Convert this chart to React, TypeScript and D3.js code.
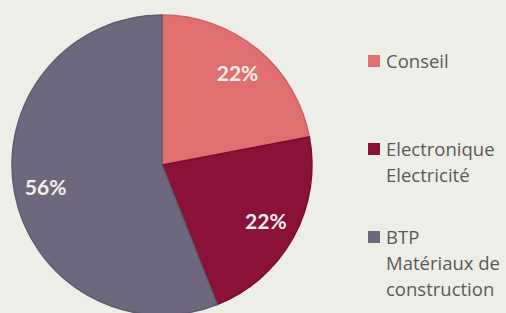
import * as d3 from 'd3';
import React from 'react';

const categories = ['Conseil', 'Electronique Electricité', 'BTP Matériaux de construction'];
const values = [22, 22, 56];
const labels = ['22%', '22%', '56%'];
const legendLines = [['Conseil'], ['Electronique', 'Electricité'], ['BTP', 'Matériaux de', 'construction']];
const colors = ['#e07070', '#8a1138', '#6e687f'];
const strokes = ['#d0605f', '#7a0c2e', '#605a70'];

export default function App() {
  const width = 506;
  const height = 313;
  const cx = 162;
  const cy = 165;
  const radius = 150;

  const pie = d3.pie<number>().sort(null).value((d) => d);
  const arcs = pie(values);
  const arc = d3.arc<d3.PieArcDatum<number>>().innerRadius(0).outerRadius(radius);
  const labelArc = d3.arc<d3.PieArcDatum<number>>().innerRadius(radius * 0.79).outerRadius(radius * 0.79);

  const legendY = d3.scalePoint<string>().domain(categories).range([62, 238]);

  return (
    <svg width={width} height={height} style={{ position: 'absolute', left: 0, top: 0, background: '#eeeee9' }}>
      <rect width={width} height={height} fill="#eeeee9" />
      <g transform={`translate(${cx},${cy})`}>
        {arcs.map((a, i) => (
          <path key={i} d={arc(a) || ''} fill={colors[i]} stroke={strokes[i]} strokeWidth={1.5} />
        ))}
        {arcs.map((a, i) => {
          const [x, y] = labelArc.centroid(a);
          return (
            <text
              key={i}
              x={x}
              y={y}
              dy="0.35em"
              textAnchor="middle"
              fill="#f3eeee"
              fontFamily="Lato, sans-serif"
              fontWeight="bold"
              fontSize={21}
            >
              {labels[i]}
            </text>
          );
        })}
      </g>
      {categories.map((c, i) => {
        const y = legendY(c) as number;
        return (
          <g key={c}>
            <rect x={368} y={y - 7} width={12} height={12} fill={colors[i]} />
            <text x={386} y={y} fill="#5a5a5a" fontFamily="'Open Sans', sans-serif" fontSize={18.5}>
              {legendLines[i].map((l, j) => (
                <tspan key={j} x={386} dy={j === 0 ? '0.35em' : 26}>
                  {l}
                </tspan>
              ))}
            </text>
          </g>
        );
      })}
    </svg>
  );
}
